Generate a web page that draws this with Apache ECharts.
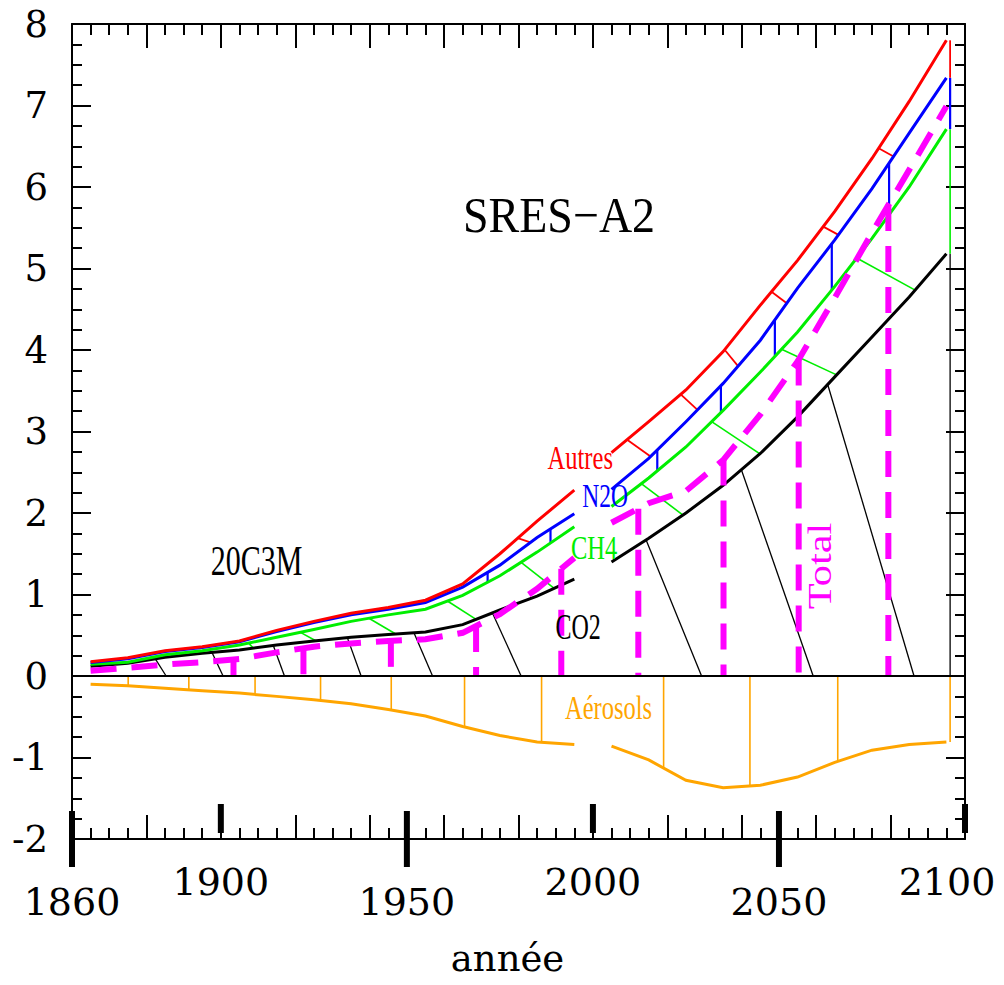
<!DOCTYPE html>
<html>
<head>
<meta charset="utf-8">
<script src="https://cdn.jsdelivr.net/npm/echarts@6/dist/echarts.min.js"></script>
<style>
  html, body { margin: 0; padding: 0; background: #fff; overflow: hidden; }
  #chart { width: 1004px; height: 985px; }
</style>
</head>
<body>
<div id="chart"></div>
<script>
// Cumulative radiative forcing by gas (W/m2), decadal means.
// 20C3M historical run, then SRES-A2 scenario.
const histYears = [1865, 1875, 1885, 1895, 1905, 1915, 1925, 1935, 1945, 1955, 1965, 1975, 1985, 1995];
const scenYears = [2005, 2015, 2025, 2035, 2045, 2055, 2065, 2075, 2085, 2095];

const co2Hist    = [0.12, 0.155, 0.23, 0.28, 0.32, 0.38, 0.43, 0.475, 0.51, 0.54, 0.63, 0.81, 0.98, 1.19];
const ch4Hist    = [0.145, 0.17, 0.26, 0.31, 0.38, 0.475, 0.57, 0.67, 0.75, 0.82, 0.99, 1.23, 1.52, 1.83];
const n2oHist    = [0.165, 0.21, 0.30, 0.35, 0.42, 0.545, 0.655, 0.75, 0.82, 0.90, 1.09, 1.36, 1.70, 1.99];
const autresHist = [0.175, 0.225, 0.31, 0.36, 0.43, 0.56, 0.67, 0.77, 0.84, 0.93, 1.13, 1.50, 1.90, 2.28];
const aerHist    = [-0.10, -0.12, -0.15, -0.18, -0.21, -0.25, -0.29, -0.34, -0.41, -0.49, -0.62, -0.73, -0.81, -0.84];
const totalHist  = [0.065, 0.10, 0.14, 0.17, 0.21, 0.29, 0.36, 0.40, 0.43, 0.45, 0.53, 0.76, 1.07, 1.45];

const co2Scen    = [1.40, 1.69, 2.00, 2.34, 2.73, 3.18, 3.67, 4.16, 4.65, 5.18];
const ch4Scen    = [2.08, 2.43, 2.81, 3.26, 3.73, 4.22, 4.78, 5.37, 6.00, 6.71];
const n2oScen    = [2.29, 2.67, 3.12, 3.59, 4.12, 4.76, 5.35, 5.98, 6.66, 7.34];
const autresScen = [2.74, 3.12, 3.51, 3.98, 4.55, 5.10, 5.70, 6.35, 7.05, 7.80];
const aerScen    = [-0.86, -1.03, -1.28, -1.37, -1.34, -1.24, -1.06, -0.91, -0.84, -0.81];
const totalScen  = [1.88, 2.12, 2.27, 2.65, 3.21, 3.86, 4.64, 5.44, 6.21, 6.99];

// Hatch strokes between stacked layers: [year on upper curve, year on lower curve]
const co2Hatch    = [[1882.4, 1885.3], [1897.6, 1900.6], [1914.1, 1917.1], [1934.0, 1937.7], [1951.9, 1956.9],
                     [1973.0, 1980.7], [2014.3, 2029.2], [2039.9, 2059.2], [2063.1, 2086.3], [2096, 2096]];
const ch4Hatch    = [[1907.5, 1908.7], [1921.4, 1925.5], [1939.8, 1947.0], [1960.9, 1968.6], [1980.7, 1989.6],
                     [2013.0, 2024.2], [2031.9, 2044.9], [2050.7, 2065.5], [2070.9, 2086.6], [2096, 2096]];
const n2oHatch    = [[1971.7, 1971.7], [1988.6, 1988.6], [2017.3, 2017.3], [2034.4, 2034.4], [2048.9, 2048.9],
                     [2064.2, 2064.2], [2079.6, 2079.6], [2096, 2096]];
const autresHatch = [[1979.8, 1983.2], [2009.2, 2015.5], [2023.6, 2028.1], [2035.4, 2039.0], [2048.0, 2052.1],
                     [2061.9, 2066.0], [2076.8, 2080.8], [2096, 2096]];
const aerHatch    = [[1875.1, 1875.1], [1891.4, 1891.4], [1909.2, 1909.2], [1926.8, 1926.8], [1945.8, 1945.8],
                     [1965.5, 1965.5], [1986.2, 1986.2], [2019.0, 2019.0], [2042.2, 2042.2], [2065.8, 2065.8], [2096, 2096]];
const totalDrops  = [[1903.4, 1903.4], [1922.2, 1922.2], [1945.7, 1945.7], [1968.6, 1968.6], [1991.5, 1991.5],
                     [2012.2, 2012.2], [2035.1, 2035.1], [2055.3, 2055.3], [2079.4, 2079.4]];

// Axis labels
const xTickLabels = [1860, 1900, 1950, 2000, 2050, 2100];
const xLowerRow   = [1860, 1950, 2050];
const majorLong   = [1860, 1950, 2050];
const majorShort  = [1900, 2000, 2100];

const BLACK = '#000000', RED = '#ff0000', BLUE = '#0000ff', GREEN = '#00ee00',
      ORANGE = '#ffa500', MAGENTA = '#ff00ff';
const AXIS_FONT = 'DejaVu Serif';
const NOTE_FONT = 'Liberation Serif';

function pairs(years, vals) { return years.map((y, i) => [y, vals[i]]); }

// position on a drawn polyline at a given year (clamped to its ends)
function onLine(years, vals, x) {
  if (x <= years[0]) return vals[0];
  const n = years.length;
  if (x >= years[n - 1]) return vals[n - 1];
  for (let i = 0; i < n - 1; i++) {
    if (x <= years[i + 1]) {
      const t = (x - years[i]) / (years[i + 1] - years[i]);
      return vals[i] + t * (vals[i + 1] - vals[i]);
    }
  }
  return vals[n - 1];
}
function curve(hist, scen) {
  return x => (x < 2000 ? onLine(histYears, hist, x) : onLine(scenYears, scen, x));
}
const zero = () => 0;
const co2At = curve(co2Hist, co2Scen);
const ch4At = curve(ch4Hist, ch4Scen);
const n2oAt = curve(n2oHist, n2oScen);
const autresAt = curve(autresHist, autresScen);
const aerAt = curve(aerHist, aerScen);
const totalAt = curve(totalHist, totalScen);

function lineSeries(name, years, vals, color, width, z, dash) {
  return {
    type: 'line', name: name, data: pairs(years, vals), symbol: 'none', smooth: false,
    silent: true, z: z,
    lineStyle: { color: color, width: width, type: dash || 'solid', cap: 'butt', join: 'miter' }
  };
}

function hatchSeries(name, list, upper, lower, color, width, z, dash) {
  return {
    type: 'custom', name: name, data: list, silent: true, z: z, clip: false,
    renderItem: function (params, api) {
      const x1 = api.value(0), x2 = api.value(1);
      const a = api.coord([x1, upper(x1)]);
      const b = api.coord([x2, lower(x2)]);
      const style = { stroke: color, lineWidth: width, fill: null };
      if (dash) style.lineDash = dash;
      return { type: 'line', shape: { x1: a[0], y1: a[1], x2: b[0], y2: b[1] }, style: style };
    }
  };
}

function thickTicks(list, above, below) {
  return {
    type: 'custom', name: 'ticks', data: list.map(v => [v, -2]), silent: true, z: 6, clip: false,
    renderItem: function (params, api) {
      const p = api.coord([api.value(0), -2]);
      return { type: 'rect', shape: { x: p[0] - 3, y: p[1] - above, width: 6, height: above - below },
               style: { fill: BLACK } };
    }
  };
}

const dash = [26, 15];

const series = [
  hatchSeries('co2-h', co2Hatch, co2At, zero, BLACK, 1.3, 1),
  hatchSeries('ch4-h', ch4Hatch, ch4At, co2At, GREEN, 1.6, 1),
  hatchSeries('n2o-h', n2oHatch, n2oAt, ch4At, BLUE, 2.2, 1),
  hatchSeries('autres-h', autresHatch, autresAt, n2oAt, RED, 1.8, 1),
  hatchSeries('aer-h', aerHatch, zero, aerAt, ORANGE, 1.6, 1),

  lineSeries('CO2', histYears, co2Hist, BLACK, 3, 2),
  lineSeries('CO2', scenYears, co2Scen, BLACK, 3, 2),
  lineSeries('CH4', histYears, ch4Hist, GREEN, 3, 2),
  lineSeries('CH4', scenYears, ch4Scen, GREEN, 3, 2),
  lineSeries('N2O', histYears, n2oHist, BLUE, 3, 2),
  lineSeries('N2O', scenYears, n2oScen, BLUE, 3, 2),
  lineSeries('Autres', histYears, autresHist, RED, 3, 2),
  lineSeries('Autres', scenYears, autresScen, RED, 3, 2),
  Object.assign(lineSeries('Aérosols', histYears, aerHist, ORANGE, 3, 2), {
    markLine: {
      silent: true, symbol: ['none', 'none'], animation: false,
      label: { show: false },
      lineStyle: { color: BLACK, width: 2, type: 'solid' },
      data: [{ yAxis: 0 }]
    }
  }),
  lineSeries('Aérosols', scenYears, aerScen, ORANGE, 3, 2),

  hatchSeries('total-drop', totalDrops, totalAt, zero, MAGENTA, 6, 3, dash),
  lineSeries('Total', histYears, totalHist, MAGENTA, 6, 3, dash),
  lineSeries('Total', scenYears, totalScen, MAGENTA, 6, 3, dash),

  thickTicks(majorLong, 28, -28),
  thickTicks(majorShort, 35, 6)
];

const tickLine = { color: BLACK, width: 2 };
const frameLine = { show: true, onZero: false, lineStyle: { color: BLACK, width: 2 } };

const option = {
  animation: false,
  backgroundColor: '#ffffff',
  grid: { left: 72, right: 39, top: 24, bottom: 146, containLabel: false, outerBoundsMode: 'none' },
  xAxis: [
    {
      type: 'value', position: 'bottom', min: 1860, max: 2100, interval: 20,
      axisLine: frameLine,
      axisTick: { show: true, inside: true, length: 24, lineStyle: tickLine },
      minorTick: { show: true, splitNumber: 4, length: 11, lineStyle: tickLine },
      axisLabel: { show: false },
      splitLine: { show: false }, minorSplitLine: { show: false }
    },
    {
      type: 'value', position: 'top', min: 1860, max: 2100, interval: 20,
      axisLine: frameLine,
      axisTick: { show: true, inside: true, length: 24, lineStyle: tickLine },
      minorTick: { show: true, splitNumber: 4, length: 11, lineStyle: tickLine },
      axisLabel: { show: false },
      splitLine: { show: false }
    },
    {
      type: 'value', position: 'bottom', min: 1860, max: 2100, interval: 10,
      axisLine: { show: false, onZero: false }, axisTick: { show: false }, splitLine: { show: false },
      name: 'année', nameLocation: 'middle', nameGap: 101,
      nameTextStyle: { fontFamily: AXIS_FONT, fontSize: 37, color: BLACK, padding: [0, 22, 0, 0] },
      axisLabel: {
        show: true, interval: 0, margin: 24, showMinLabel: true, showMaxLabel: true, hideOverlap: false,
        formatter: function (v) {
          if (xTickLabels.indexOf(v) < 0) return '';
          if (xLowerRow.indexOf(v) >= 0) return '{lo|' + v + '}';
          if (v === 2100) return '{end|' + v + '}';
          return '{hi|' + v + '}';
        },
        rich: {
          hi:  { fontFamily: AXIS_FONT, fontSize: 38, lineHeight: 38, color: BLACK },
          lo:  { fontFamily: AXIS_FONT, fontSize: 38, lineHeight: 78, color: BLACK },
          end: { fontFamily: AXIS_FONT, fontSize: 38, lineHeight: 38, color: BLACK, padding: [0, 36, 0, 0] }
        }
      }
    }
  ],
  yAxis: [
    {
      type: 'value', position: 'left', min: -2, max: 8, interval: 1,
      axisLine: frameLine,
      axisTick: { show: true, inside: true, length: 19, lineStyle: tickLine },
      minorTick: { show: true, splitNumber: 4, length: 10, lineStyle: tickLine },
      axisLabel: { show: true, margin: 24, fontFamily: AXIS_FONT, fontSize: 37, color: BLACK,
                   showMinLabel: true, showMaxLabel: true },
      splitLine: { show: false }
    },
    {
      type: 'value', position: 'right', min: -2, max: 8, interval: 1,
      axisLine: frameLine,
      axisTick: { show: true, inside: true, length: 19, lineStyle: tickLine },
      minorTick: { show: true, splitNumber: 4, length: 10, lineStyle: tickLine },
      axisLabel: { show: false },
      splitLine: { show: false }
    }
  ],
  series: series
};

const chart = echarts.init(document.getElementById('chart'), null, { renderer: 'svg' });
chart.setOption(option);

// Annotations placed in data coordinates
function note(text, x, y, color, size, sx, sy, rot) {
  const p = chart.convertToPixel({ xAxisIndex: 0, yAxisIndex: 0 }, [x, y]);
  return {
    type: 'text', x: p[0], y: p[1], scaleX: sx, scaleY: sy, rotation: rot || 0, silent: true, z: 10,
    style: {
      text: text, fontFamily: NOTE_FONT, fontSize: size, fill: color,
      align: 'center', verticalAlign: 'middle', textAlign: 'center', textVerticalAlign: 'middle'
    }
  };
}

chart.setOption({
  graphic: [
    note('SRES\u2212A2', 1990.9, 5.66, BLACK, 46, 1, 1.1),
    note('20C3M', 1909.6, 1.41, BLACK, 30, 1, 1.4),
    note('Autres', 1996.6, 2.69, RED, 24.5, 1, 1.4),
    note('N2O', 2003.3, 2.21, BLUE, 23.5, 1, 1.4),
    note('CH4', 2000.3, 1.58, GREEN, 24.5, 1, 1.35),
    note('CO2', 1996.0, 0.60, BLACK, 24, 1, 1.45),
    note('Aérosols', 2004.2, -0.39, ORANGE, 24.5, 1, 1.35),
    note('Total', 2060.9, 1.35, MAGENTA, 34, 1.25, 1, Math.PI / 2)
  ]
});
</script>
</body>
</html>
